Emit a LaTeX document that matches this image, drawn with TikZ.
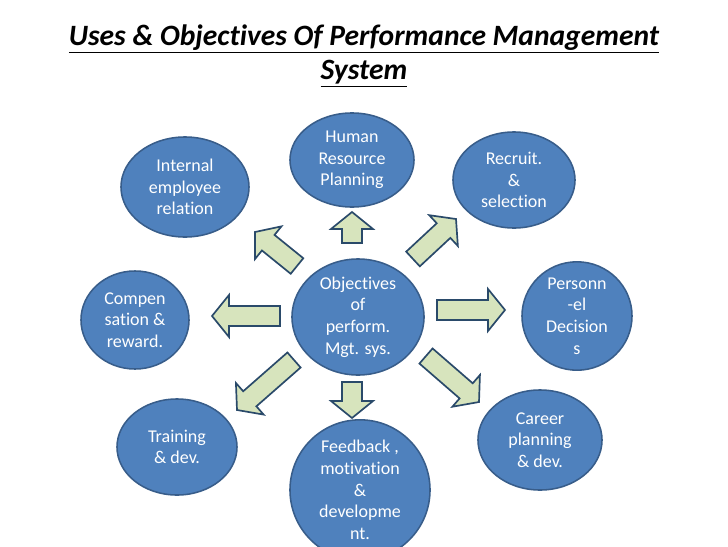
\documentclass[tikz,border=0pt]{standalone}
\usepackage{fontspec}
\setmainfont{Carlito}[Ligatures=NoCommon]
\usetikzlibrary{calc,shapes.geometric}
\definecolor{bubblefill}{HTML}{4F81BD}
\definecolor{bubbleline}{HTML}{385D8A}
\definecolor{arrowfill}{HTML}{D7E4BD}
\definecolor{arrowline}{HTML}{2A4A6A}

% block arrow from tail (#1) to tip (#2)
\newcommand{\blockarrow}[2]{%
  \coordinate (hb) at ($(#2)!0.425cm!(#1)$);
  \draw[blockarr] ($(#1)!0.25cm!90:(#2)$) -- ($(hb)!0.25cm!90:(#2)$)
    -- ($(hb)!0.525cm!90:(#2)$) -- (#2) -- ($(hb)!0.525cm!-90:(#2)$)
    -- ($(hb)!0.25cm!-90:(#2)$) -- ($(#1)!0.25cm!-90:(#2)$) -- cycle;
}

\begin{document}
\begin{tikzpicture}[
        x=0.025cm, y=-0.025cm,
        bubble/.style={ellipse, draw=bubbleline, fill=bubblefill, line width=1.1pt,
                       text=white, align=center, inner sep=0pt,
                       font=\fontsize{12.8}{15.4}\selectfont},
        blockarr/.style={draw=arrowline, fill=arrowfill, line width=1.2pt, line join=miter},
        heading/.style={align=center, font=\fontsize{21}{24.5}\selectfont\bfseries\itshape},
    ]
    \useasboundingbox (0,0) rectangle (728,546);

    % ===== Title =====
    \node[heading] (title) at (364,56)
        {\underline{Uses \& Objectives Of Performance Management}\\ \underline{System}};

    % ===== Centre and surrounding bubbles =====
    \node[bubble, minimum width=3.3cm, minimum height=2.9cm] (obj) at (358,317)
        {Objectives\\ of\\ perform.\\ Mgt. sys.};
    \node[bubble, minimum width=3.1cm, minimum height=2.35cm] (hrp) at (352,160)
        {Human\\ Resource\\ Planning};
    \node[bubble, minimum width=3.2cm, minimum height=2.5cm] (ier) at (185,187)
        {Internal\\ employee\\ relation};
    \node[bubble, minimum width=3.05cm, minimum height=2.4cm] (rec) at (514,180)
        {Recruit.\\ \&\\ selection};
    \node[bubble, minimum width=2.75cm, minimum height=2.55cm] (pdec) at (577,316)
        {Personn\\ -el\\ Decision\\ s};
    \node[bubble, minimum width=2.7cm, minimum height=2.45cm] (comp) at (135,320)
        {Compen\\ sation \&\\ reward.};
    \node[bubble, minimum width=3.0cm, minimum height=2.4cm] (trn) at (177,447)
        {Training\\ \& dev.};
    \node[bubble, minimum width=3.5cm, minimum height=2.9cm] (fbk) at (360,490)
        {Feedback ,\\ motivation\\ \&\\ developme\\ nt.};
    \node[bubble, minimum width=3.1cm, minimum height=2.5cm] (car) at (540,440)
        {Career\\ planning\\ \& dev.};

    % ===== Block arrows (tail / tip) =====
    \coordinate (up-t) at (352,243);  \coordinate (up-h) at (352,212);
    \coordinate (dn-t) at (352,382);  \coordinate (dn-h) at (352,418);
    \coordinate (lt-t) at (280,316);  \coordinate (lt-h) at (212,316);
    \coordinate (rt-t) at (437,310);  \coordinate (rt-h) at (505,310);
    \coordinate (ul-t) at (297,266);  \coordinate (ul-h) at (255,232);
    \coordinate (ur-t) at (413,259);  \coordinate (ur-h) at (456,219);
    \coordinate (dl-t) at (294,360);  \coordinate (dl-h) at (237,410);
    \coordinate (dr-t) at (426,356);  \coordinate (dr-h) at (479,402);

    \foreach \a in {up,dn,lt,rt,ul,ur,dl,dr} { \blockarrow{\a-t}{\a-h} }
\end{tikzpicture}
\end{document}
